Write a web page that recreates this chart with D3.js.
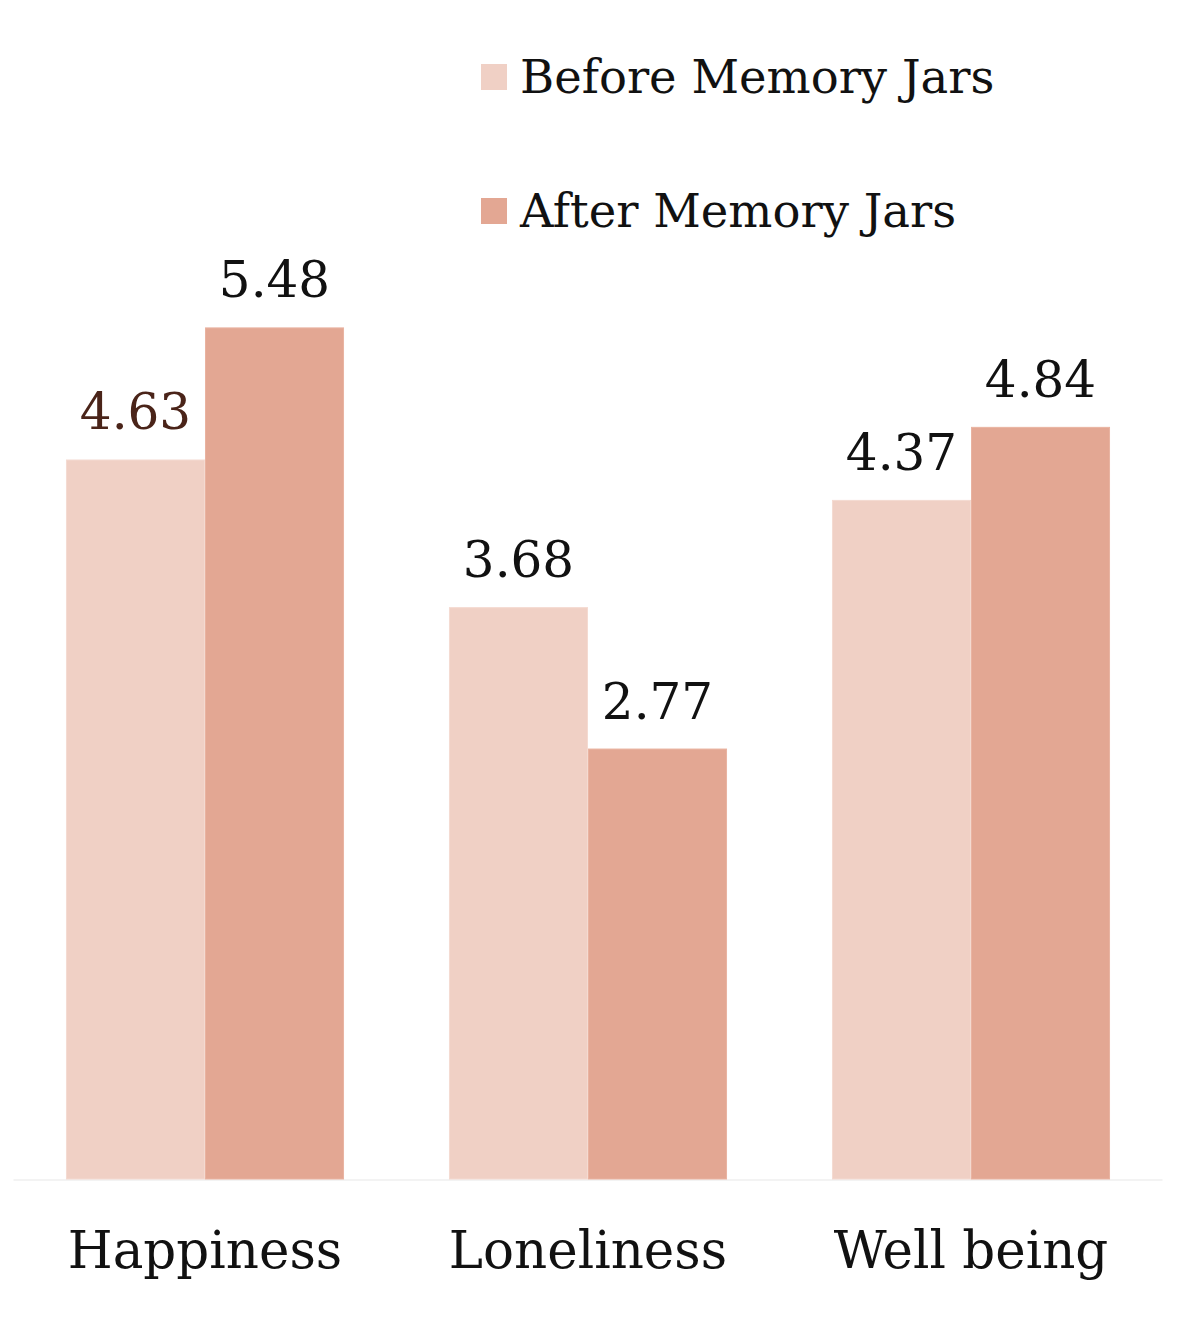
<!DOCTYPE html>
<html>
<head>
<meta charset="utf-8">
<script src="https://cdn.jsdelivr.net/npm/d3@7"></script>
<style>
  body { margin: 0; background: #fff; }
  text { font-family: "DejaVu Serif", "Liberation Serif", serif; }
</style>
</head>
<body>
<svg id="chart"></svg>
<script>
/* Chart data */
var categories = ["Happiness", "Loneliness", "Well being"];
var seriesNames = ["Before Memory Jars", "After Memory Jars"];
var beforeValues = [4.63, 3.68, 4.37];
var afterValues = [5.48, 2.77, 4.84];

var width = 1200, height = 1326;
var colors = ["#f0d0c5", "#e3a793"];
var edges = ["#f4dad1", "#e9b3a1"];

var svg = d3.select("#chart")
    .attr("width", width)
    .attr("height", height);

// Build rows from the arrays
var rows = categories.map(function(c, i) {
    return { category: c, values: [beforeValues[i], afterValues[i]] };
});

/* Scales */
var x0 = d3.scaleBand()
    .domain(categories)
    .range([13.5, 1162.5])
    .paddingInner(0.274)
    .paddingOuter(0.137);

var x1 = d3.scaleBand()
    .domain([0, 1])
    .range([0, x0.bandwidth()]);

var y = d3.scaleLinear()
    .domain([0, 6])
    .range([1179, 1179 - 6 * 155.4]);

// Baseline
svg.append("line")
    .attr("x1", x0.range()[0])
    .attr("x2", x0.range()[1])
    .attr("y1", y(0) + 1)
    .attr("y2", y(0) + 1)
    .attr("stroke", "#f3f3f3")
    .attr("stroke-width", 2);

var groups = svg.selectAll("g.group")
    .data(rows)
    .enter().append("g")
    .attr("class", "group")
    .attr("transform", function(d) { return "translate(" + x0(d.category) + ",0)"; });

// Bars
groups.selectAll("rect")
    .data(function(d) { return d.values; })
    .enter().append("rect")
    .attr("x", function(v, i) { return x1(i) + 0.5; })
    .attr("width", x1.bandwidth() - 1)
    .attr("y", function(v) { return y(v) + 0.5; })
    .attr("height", function(v) { return y(0) - y(v) - 0.5; })
    .attr("fill", function(v, i) { return colors[i]; })
    .attr("stroke", function(v, i) { return edges[i]; })
    .attr("stroke-width", 1);

// Value labels
groups.selectAll("text.value")
    .data(function(d, gi) { return d.values.map(function(v, i) { return { v: v, i: i, g: gi }; }); })
    .enter().append("text")
    .attr("class", "value")
    .attr("x", function(d) { return x1(d.i) + x1.bandwidth() / 2; })
    .attr("y", function(d) { return y(d.v) - 30; })
    .attr("text-anchor", "middle")
    .attr("font-size", 50)
    .attr("fill", function(d) { return (d.g === 0 && d.i === 0) ? "#4a2419" : "#111"; })
    .text(function(d) { return d.v.toFixed(2); });

// Category labels
svg.append("g")
    .attr("transform", "translate(0," + y(0) + ")")
    .call(d3.axisBottom(x0).tickSize(0).tickPadding(0))
    .call(function(g) { g.select(".domain").remove(); })
    .selectAll("text")
    .attr("dy", 0)
    .attr("y", 89)
    .attr("font-size", 51.5)
    .attr("font-family", "DejaVu Serif, serif")
    .attr("fill", "#111");

// Legend
var legend = svg.selectAll("g.legend")
    .data(seriesNames)
    .enter().append("g")
    .attr("class", "legend")
    .attr("transform", function(d, i) { return "translate(481," + (64 + i * 134) + ")"; });

legend.append("rect")
    .attr("width", 26)
    .attr("height", 26)
    .attr("fill", function(d, i) { return colors[i]; });

legend.append("text")
    .attr("x", 39)
    .attr("y", 29)
    .attr("font-size", 46.5)
    .attr("fill", "#111")
    .text(function(d) { return d; });
</script>
</body>
</html>
